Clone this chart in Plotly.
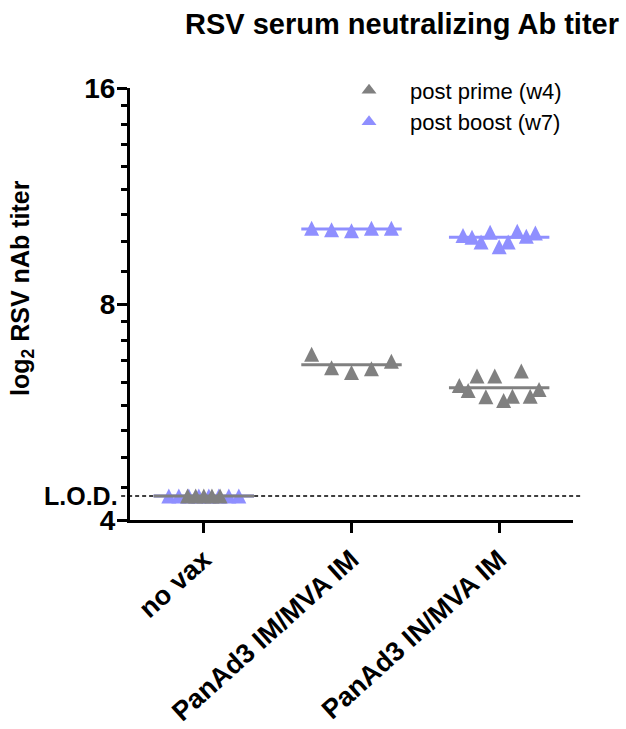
import numpy as np
import plotly.graph_objects as go

# Groups on the x axis
groups = ["no vax", "PanAd3 IM/MVA IM", "PanAd3 IN/MVA IM"]

# Limit of detection (log2 titer)
lod = 4.32

# post prime (w4) titers per group, left to right within each column
prime_novax = [4.32, 4.32, 4.32, 4.32, 4.32]
prime_im = [6.81, 6.52, 6.42, 6.50, 6.66]
prime_in = [6.16, 6.06, 6.35, 5.94, 6.35, 5.87, 5.95, 6.45, 5.95, 6.08]

# post boost (w7) titers per group
boost_novax = [4.32, 4.32, 4.32, 4.32, 4.32, 4.32, 4.32, 4.32]
boost_im = [10.20, 10.15, 10.12, 10.20, 10.20]
boost_in = [9.97, 9.91, 9.76, 10.07, 9.61, 9.76, 10.10, 9.94, 10.05]

# Axis ticks
ytick_vals = [4, 8, 16]
ytick_text = ["4", "8", "16"]

GRAY = "#808080"
BLUE = "#8f8fff"
FONT = "Liberation Sans, Arial, sans-serif"
MSIZE = 15

series = [
    # name, color, per-group values, per-group horizontal spread (category units)
    ("post boost (w7)", BLUE, [boost_novax, boost_im, boost_in], [0.237, 0.27, 0.245], 2),
    ("post prime (w4)", GRAY, [prime_novax, prime_im, prime_in], [0.11, 0.27, 0.27], 1),
]

fig = go.Figure()
for name, color, vals_by_group, spreads, rank in series:
    xs, ys = [], []
    for gi, (vals, half) in enumerate(zip(vals_by_group, spreads)):
        n = len(vals)
        offs = np.linspace(-half, half, n) if n > 1 else np.zeros(1)
        xs.extend(gi + offs)
        ys.extend(vals)
    # upward triangle, shifted so that it is centred on the value
    fig.add_trace(go.Scatter(
        x=xs, y=ys, mode="markers", name=name, showlegend=False,
        marker=dict(symbol="arrow-down", angle=180, size=MSIZE, standoff=MSIZE / 2,
                    color=color, line=dict(width=0)),
        cliponaxis=False,
    ))
    # mean bar for each group
    for gi, vals in enumerate(vals_by_group):
        m = float(np.mean(vals))
        fig.add_trace(go.Scatter(
            x=[gi - 0.34, gi + 0.34], y=[m, m], mode="lines",
            line=dict(color=color, width=3), showlegend=False, hoverinfo="skip",
        ))
    # legend entry
    fig.add_trace(go.Scatter(
        x=[None], y=[None], mode="markers", name=name, legendrank=rank,
        marker=dict(symbol="triangle-up", size=13, color=color, line=dict(width=0)),
    ))

# minor ticks: nine equal steps inside each doubling
minor_vals = list(np.linspace(4, 8, 10)[1:-1]) + list(np.linspace(8, 16, 10)[1:-1])

fig.update_layout(
    width=626, height=729,
    margin=dict(l=130, r=53, t=88, b=209, autoexpand=False),
    paper_bgcolor="white", plot_bgcolor="white",
    font=dict(family=FONT, color="black"),
    showlegend=True,
    legend=dict(
        x=0.447, y=1.043, xanchor="left", yanchor="top",
        bgcolor="rgba(0,0,0,0)", itemwidth=72,
        font=dict(family=FONT, size=22, color="black"),
        traceorder="normal",
    ),
    xaxis=dict(
        range=[-0.5, 2.5], tickmode="array", tickvals=[0, 1, 2], ticktext=groups,
        tickangle=-42, ticks="outside", ticklen=10, tickwidth=3, tickcolor="black",
        showline=True, linewidth=3, linecolor="black", showgrid=False, zeroline=False,
        tickfont=dict(family=FONT, size=27, weight="bold", color="black"),
    ),
    yaxis=dict(
        type="log", range=[np.log10(4), np.log10(16)],
        tickmode="array", tickvals=ytick_vals, ticktext=ytick_text,
        ticks="outside", ticklen=10, tickwidth=3, tickcolor="black",
        ticklabelstandoff=-4,
        showline=True, linewidth=3, linecolor="black", showgrid=False, zeroline=False,
        tickfont=dict(family=FONT, size=28, weight="bold", color="black"),
        minor=dict(tickmode="array", tickvals=minor_vals, ticks="outside",
                   ticklen=6, tickwidth=2.5, tickcolor="black", showgrid=False),
    ),
    shapes=[dict(
        type="line", xref="paper", yref="y", x0=-0.02, x1=1.02, y0=lod, y1=lod,
        line=dict(color="black", width=1.5, dash="4px,3px"), layer="below",
    )],
    annotations=[
        dict(text="<b>RSV serum neutralizing Ab titer</b>", xref="paper", yref="paper",
             x=0.615, y=1.148, xanchor="center", yanchor="middle", showarrow=False,
             font=dict(family=FONT, size=29, color="black")),
        dict(text="<b>log<sub>2</sub> RSV nAb titer</b>", xref="paper", yref="paper",
             x=-0.244, y=0.537, xanchor="center", yanchor="middle", textangle=-90,
             showarrow=False, font=dict(family=FONT, size=25, color="black")),
        dict(text="<b>L.O.D.</b>", xref="paper", yref="y", x=-0.022, y=np.log10(lod),
             xanchor="right", yanchor="middle", showarrow=False,
             font=dict(family=FONT, size=25, color="black")),
    ],
)

fig.write_html("out.html")
